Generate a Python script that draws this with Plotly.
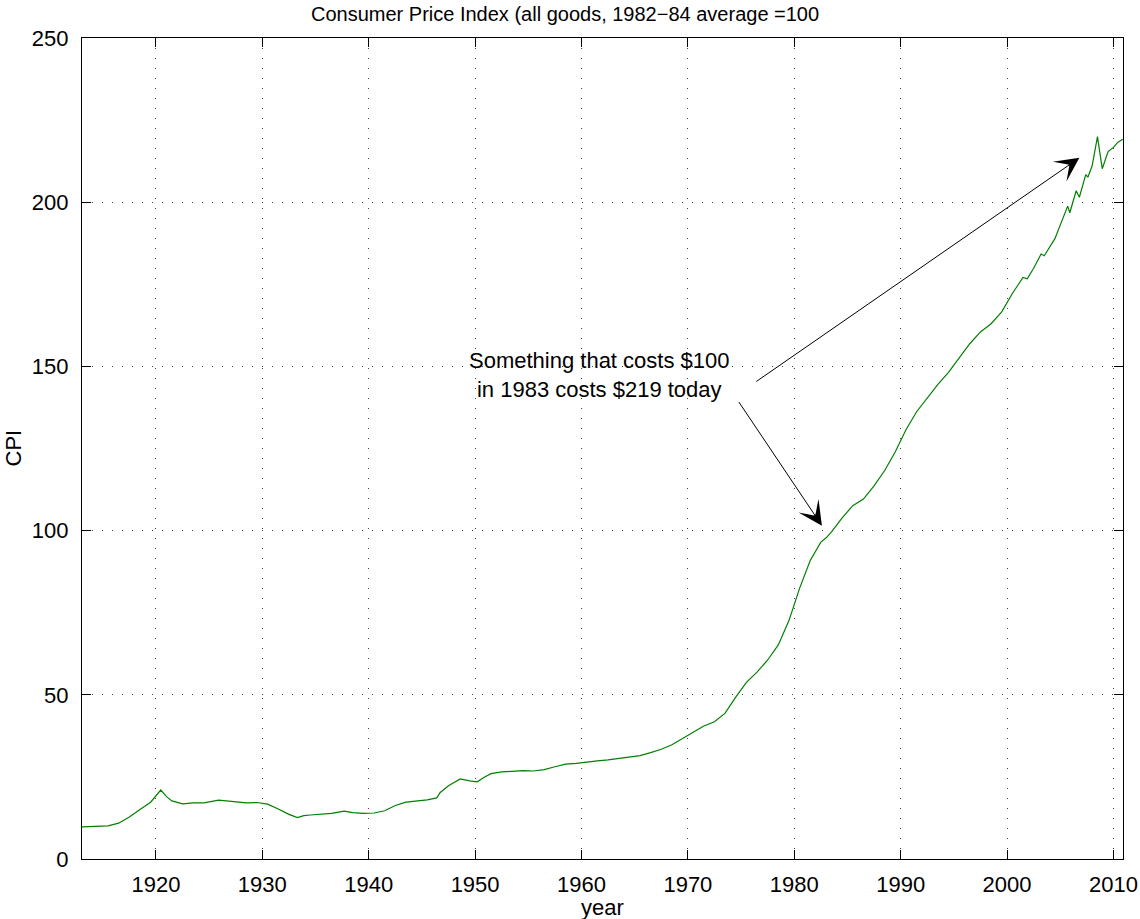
import plotly.graph_objects as go

# CPI (1982-84 = 100)
year = [1913.0, 1913.5, 1914.5, 1915.5, 1916.5, 1917.5, 1918.5, 1919.5, 1920.45, 1921.0,
        1921.5, 1922.5, 1923.5, 1924.5, 1925.9, 1926.5, 1927.5, 1928.5, 1929.5, 1930.5,
        1931.5, 1932.5, 1933.3, 1933.9, 1934.5, 1935.5, 1936.5, 1937.7, 1938.5, 1939.5,
        1940.5, 1941.5, 1942.5, 1943.5, 1944.5, 1945.5, 1946.4, 1946.7, 1947.5, 1948.6,
        1949.5, 1950.2, 1950.9, 1951.5, 1952.5, 1953.5, 1954.5, 1955.5, 1956.5, 1957.5,
        1958.5, 1959.5, 1960.5, 1961.5, 1962.5, 1963.5, 1964.5, 1965.5, 1966.5, 1967.5,
        1968.5, 1969.5, 1970.5, 1971.5, 1972.5, 1973.5, 1974.5, 1975.5, 1976.5, 1977.5,
        1978.5, 1979.5, 1980.5, 1981.5, 1982.5, 1983.0, 1983.5, 1984.5, 1985.5, 1986.5,
        1987.5, 1988.5, 1989.5, 1990.5, 1991.5, 1992.5, 1993.5, 1994.5, 1995.5, 1996.5,
        1997.5, 1998.5, 1999.5, 2000.5, 2001.5, 2001.9, 2002.5, 2003.2, 2003.5, 2004.5,
        2005.7, 2005.9, 2006.5, 2006.8, 2007.4, 2007.6, 2008.0, 2008.5, 2008.95, 2009.5,
        2010.0, 2010.4, 2010.88]
cpi = [9.8, 9.9, 10.0, 10.1, 10.9, 12.8, 15.1, 17.3, 21.0, 19.0,
       17.7, 16.8, 17.1, 17.1, 17.9, 17.7, 17.4, 17.1, 17.2, 16.7,
       15.2, 13.6, 12.6, 13.2, 13.4, 13.7, 13.9, 14.6, 14.1, 13.9,
       14.0, 14.7, 16.3, 17.3, 17.6, 18.0, 18.6, 20.2, 22.3, 24.4,
       23.8, 23.5, 25.0, 26.0, 26.5, 26.7, 26.9, 26.8, 27.2, 28.1,
       28.9, 29.1, 29.6, 29.9, 30.2, 30.6, 31.0, 31.5, 32.4, 33.4,
       34.8, 36.7, 38.8, 40.5, 41.8, 44.4, 49.3, 53.8, 56.9, 60.6,
       65.2, 72.6, 82.4, 90.9, 96.5, 97.8, 99.6, 103.9, 107.6, 109.6,
       113.6, 118.3, 124.0, 130.7, 136.2, 140.3, 144.5, 148.2, 152.4, 156.9,
       160.5, 163.0, 166.6, 172.2, 177.1, 176.7, 179.9, 184.2, 183.7, 188.9,
       198.8, 196.8, 203.5, 201.5, 208.4, 207.6, 211.1, 219.96, 210.2, 215.4,
       216.7, 218.2, 219.2]

x_ticks = [1920, 1930, 1940, 1950, 1960, 1970, 1980, 1990, 2000, 2010]
y_ticks = [0, 50, 100, 150, 200, 250]

FONT = "Liberation Sans, Arial, Helvetica, sans-serif"
PLOT_H = 919 - 38 - 60

fig = go.Figure()
fig.add_trace(go.Scatter(x=year, y=cpi, mode="lines",
                         line=dict(color="rgb(0,128,0)", width=1.2),
                         hoverinfo="skip", showlegend=False))

axis_style = dict(showline=True, linecolor="black", linewidth=1.3, mirror="allticks",
                  ticks="inside", ticklen=9, tickcolor="black", tickwidth=1,
                  showgrid=True, gridcolor="#444", gridwidth=1, griddash="1px,9px",
                  zeroline=False, automargin=False,
                  tickfont=dict(family=FONT, size=22, color="black"))

fig.update_xaxes(**axis_style, range=[1913.05, 2010.9], tickvals=x_ticks,
                 ticklabelstandoff=5)
fig.update_yaxes(**axis_style, range=[0, 250], tickvals=y_ticks,
                 ticklabelstandoff=8)

# axis titles and chart title placed by hand
fig.add_annotation(x=0.5, y=-(908 - 859) / PLOT_H, xref="paper", yref="paper",
                   text="year", showarrow=False, yanchor="middle",
                   font=dict(family=FONT, size=22, color="black"))
fig.add_annotation(x=-(82 - 13) / 1041, y=0.5, xref="paper", yref="paper",
                   text="CPI", showarrow=False, textangle=-90, xanchor="center",
                   font=dict(family=FONT, size=22, color="black"))
fig.add_annotation(x=(565 - 82) / 1041, y=1 + (38 - 14) / PLOT_H, xref="paper", yref="paper",
                   text="Consumer Price Index (all goods, 1982\u221284 average =100",
                   showarrow=False, yanchor="middle",
                   font=dict(family=FONT, size=20, color="black"))

# annotation text + two arrows
fig.add_annotation(x=1961.7, y=147.3, xref="x", yref="y",
                   text="Something that costs $100<br>in 1983 costs $219 today",
                   showarrow=False, font=dict(family=FONT, size=22, color="black"),
                   align="center")
fig.add_annotation(x=2006.8, y=213.5, ax=1976.3, ay=145.1, xref="x", yref="y",
                   axref="x", ayref="y", text="", showarrow=True,
                   arrowhead=3, arrowsize=4, arrowwidth=1, arrowcolor="black")
fig.add_annotation(x=1982.6, y=101.5, ax=1974.7, ay=139.6, xref="x", yref="y",
                   axref="x", ayref="y", text="", showarrow=True,
                   arrowhead=3, arrowsize=4, arrowwidth=1, arrowcolor="black")

fig.update_layout(
    width=1140, height=919,
    margin=dict(l=82, r=17, t=38, b=60),
    paper_bgcolor="white", plot_bgcolor="white",
)

# drop the default 8px body margin so the figure sits at the window corner
fig.write_html("out.html", config={"displayModeBar": False},
               post_script="document.body.style.margin='0px';")
